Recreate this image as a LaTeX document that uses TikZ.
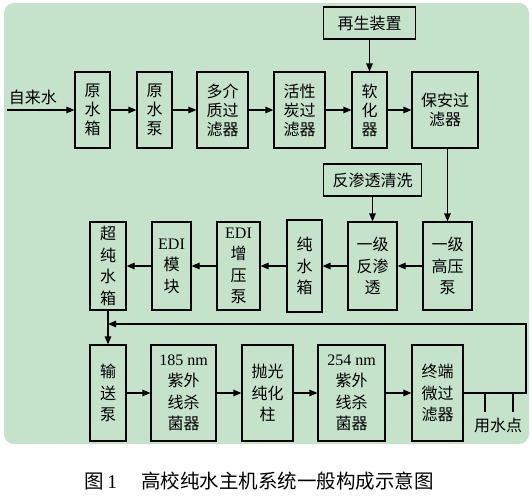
\documentclass[tikz,border=0pt]{standalone}
\usepackage{fontspec}
\setmainfont{Liberation Serif}
\newfontfamily\cjk{Noto Sans CJK SC}
\usetikzlibrary{arrows.meta,positioning}
\definecolor{panelgreen}{RGB}{197,226,203}

\begin{document}
\begin{tikzpicture}[x=1pt,y=-1pt,
	unit/.style={draw,fill=panelgreen,line width=1.2pt,inner sep=0pt,align=center,font=\cjk\fontsize{16}{21.5}\selectfont},
	tight/.style={font=\cjk\fontsize{16}{19}\selectfont},
	flow/.style={line width=1.2pt,-{Triangle[length=8pt,width=6.5pt]}},
	wire/.style={line width=1.2pt}]
	\useasboundingbox (0,0) rectangle (532,501);
	\fill[panelgreen,rounded corners=10pt] (4,3) rectangle (529,444);
	% first row
	\node[font=\cjk\fontsize{16}{19}\selectfont] (tap) at (33,97) {自来水};
	\coordinate (src) at (7,110);
	\node[unit,tight,minimum width=35pt,minimum height=76pt] (ysx) at (92.5,110) {原\\水\\箱};
	\node[unit,tight,minimum width=35pt,minimum height=76pt] (ysb) at (154.5,110) {原\\水\\泵};
	\node[unit,tight,minimum width=51pt,minimum height=76pt] (djz) at (222.5,110) {多介\\质过\\滤器};
	\node[unit,tight,minimum width=51pt,minimum height=76pt] (hxt) at (299.5,110) {活性\\炭过\\滤器};
	\node[unit,tight,minimum width=35pt,minimum height=76pt] (rhq) at (369.5,110) {软\\化\\器};
	\node[unit,tight,minimum width=66pt,minimum height=76pt] (bag) at (445,110) {保安过\\滤器};
	\node[unit,minimum width=92pt,minimum height=32pt] (zsz) at (369.5,23) {再生装置};
	\draw[flow] (src) -- (ysx.west);
	\draw[flow] (ysx.east) -- (ysb.west);
	\draw[flow] (ysb.east) -- (djz.west);
	\draw[flow] (djz.east) -- (hxt.west);
	\draw[flow] (hxt.east) -- (rhq.west);
	\draw[flow] (rhq.east) -- (bag.west);
	\draw[flow] (zsz.south) -- (rhq.north);
	% second row
	\node[unit,minimum width=49pt,minimum height=88pt] (gyb) at (447.5,266) {一级\\高压\\泵};
	\node[unit,minimum width=49pt,minimum height=88pt] (ro) at (372.5,266) {一级\\反渗\\透};
	\node[unit,minimum width=35pt,minimum height=92pt] (csx) at (304.5,266) {纯\\水\\箱};
	\node[unit,minimum width=43pt,minimum height=88pt] (edib) at (238.5,266) {{\rmfamily EDI}\\增\\压\\泵};
	\node[unit,minimum width=39pt,minimum height=88pt] (edi) at (171.5,266) {{\rmfamily EDI}\\模\\块};
	\node[unit,minimum width=36pt,minimum height=88pt] (ccx) at (108,266) {超\\纯\\水\\箱};
	\node[unit,minimum width=98pt,minimum height=32pt] (qx) at (372.5,180) {反渗透清洗};
	\draw[flow] (bag.south -| gyb.north) -- (gyb.north);
	\draw[flow] (qx.south) -- (ro.north);
	\draw[flow] (gyb.west) -- (ro.east);
	\draw[flow] (ro.west) -- (csx.east);
	\draw[flow] (csx.west) -- (edib.east);
	\draw[flow] (edib.west) -- (edi.east);
	\draw[flow] (edi.west) -- (ccx.east);
	% third row
	\node[unit,minimum width=36pt,minimum height=96pt] (ssb) at (108,393) {输\\送\\泵};
	\node[unit,minimum width=65pt,minimum height=96pt] (uva) at (183.5,393) {{\rmfamily 185 nm}\\紫外\\线杀\\菌器};
	\node[unit,minimum width=51pt,minimum height=96pt] (pgz) at (267.5,393) {抛光\\纯化\\柱};
	\node[unit,minimum width=67pt,minimum height=96pt] (uvb) at (351.5,393) {{\rmfamily 254 nm}\\紫外\\线杀\\菌器};
	\node[unit,minimum width=51pt,minimum height=96pt] (zdw) at (437.5,393) {终端\\微过\\滤器};
	\draw[flow] (ccx.south) -- (ssb.north);
	\draw[flow] (ssb.east) -- (uva.west);
	\draw[flow] (uva.east) -- (pgz.west);
	\draw[flow] (pgz.east) -- (uvb.west);
	\draw[flow] (uvb.east) -- (zdw.west);
	% return loop and taps
	\coordinate (rt) at (526,324);
	\draw[flow] (zdw.east) -| (rt) -- (ccx.south |- rt);
	\coordinate (tapa) at (485,393);
	\coordinate (tapb) at (513,393);
	\draw[wire] (tapa) -- ++(0,19);
	\draw[wire] (tapb) -- ++(0,19);
	\node[font=\cjk\fontsize{16}{19}\selectfont] (use) at (498,425) {用水点};
	% caption
	\node[font=\cjk\fontsize{19.5}{23}\selectfont] (cap) at (259,481) {图\,{\rmfamily 1}\hspace{24pt}高校纯水主机系统一般构成示意图};
\end{tikzpicture}
\end{document}
